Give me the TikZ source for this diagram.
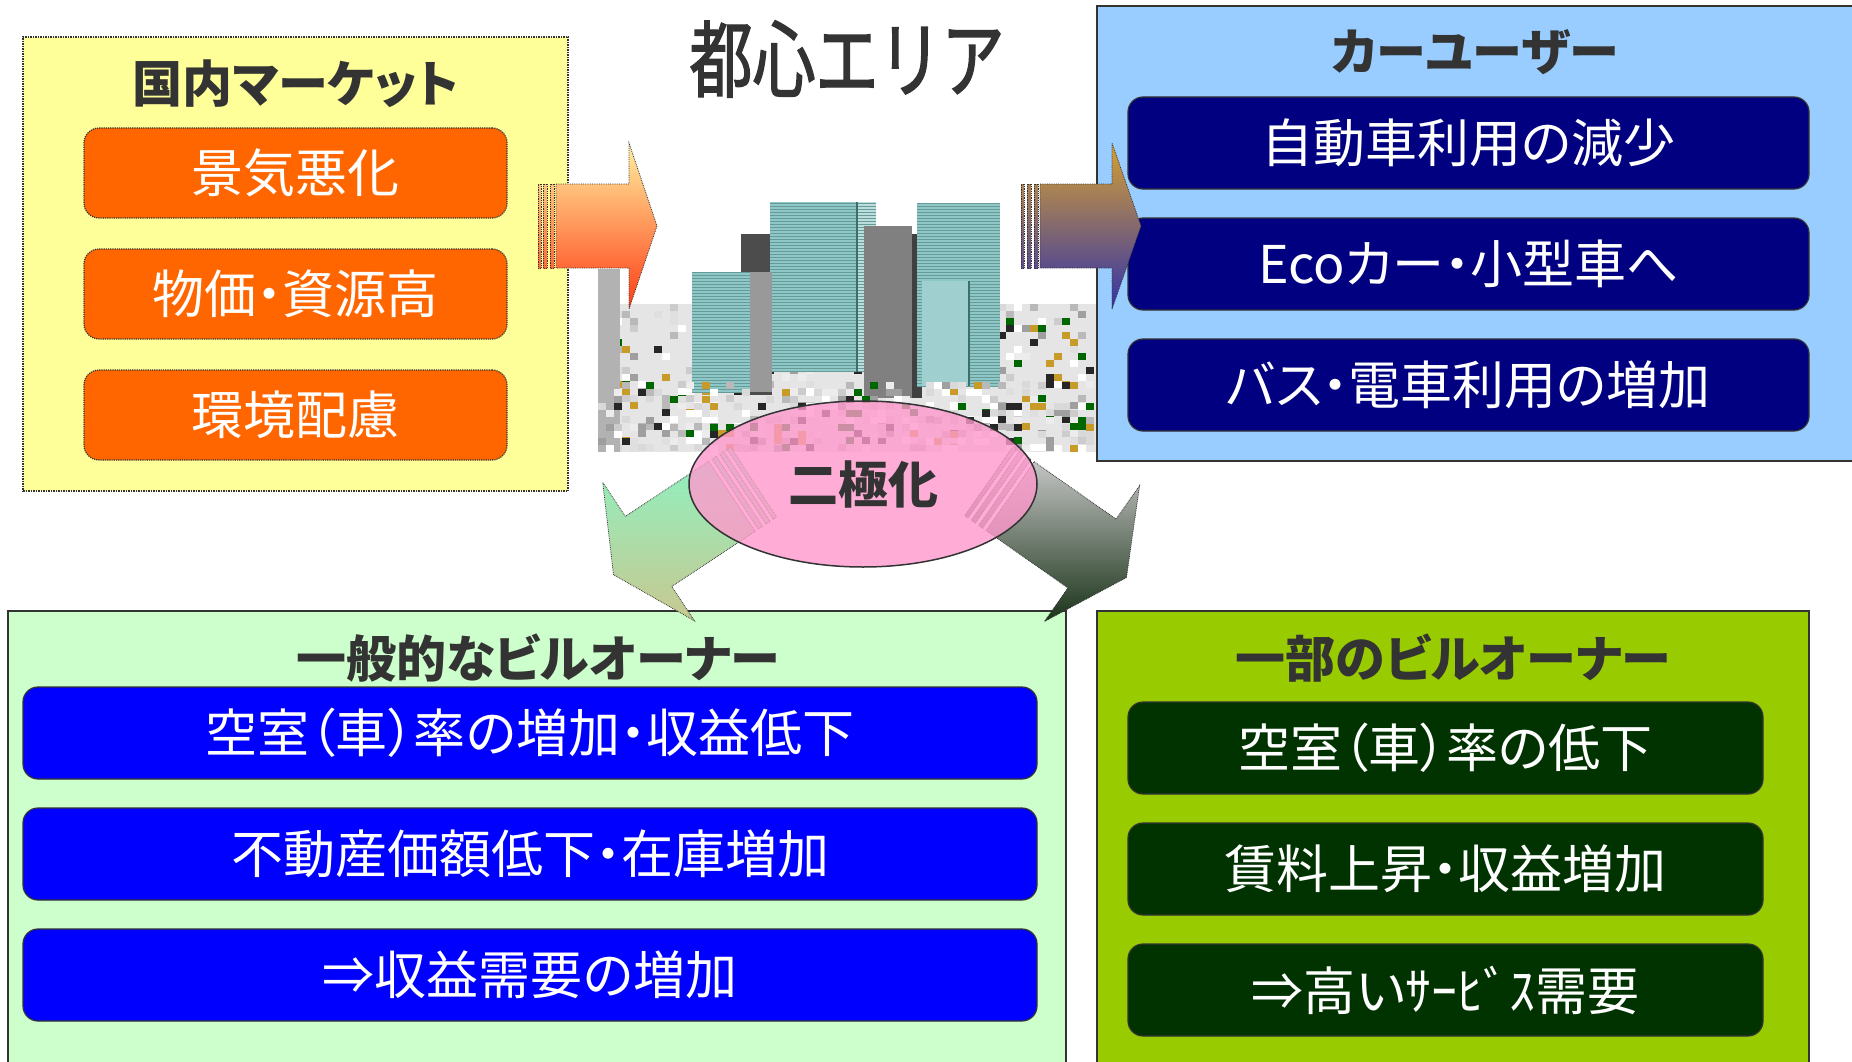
\documentclass[tikz,border=0pt]{standalone}
\usepackage{fontspec}
\setmainfont{Noto Sans CJK JP}[RawFeature=+palt]
\newfontfamily\areafont{Noto Sans CJK JP}[FakeStretch=0.75, FakeBold=1.6]
\usepackage{tikz}
\usetikzlibrary{positioning, shapes.geometric, patterns}

\definecolor{titlegray}{HTML}{333333}
\definecolor{mktyellow}{HTML}{FFFF99}
\definecolor{mktorange}{HTML}{FF6600}
\definecolor{carblue}{HTML}{99CCFF}
\definecolor{carnavy}{HTML}{000080}
\definecolor{genmint}{HTML}{CCFFCC}
\definecolor{genblue}{HTML}{0000FF}
\definecolor{partlime}{HTML}{99CC00}
\definecolor{partgreen}{HTML}{003300}
\definecolor{polarpink}{HTML}{FF99CC}
\definecolor{glass}{HTML}{8EC8C6}
\definecolor{glassdark}{HTML}{3F6F6D}
\definecolor{gold}{HTML}{C89B28}
\definecolor{warmtop}{HTML}{FFF0A0}
\definecolor{warmbot}{HTML}{FF3C14}
\definecolor{dusktop}{HTML}{D6A032}
\definecolor{duskbot}{HTML}{3232AA}
\definecolor{minttop}{HTML}{90F0C0}
\definecolor{mintbot}{HTML}{C8C890}
\definecolor{ashtop}{HTML}{C4C4C4}
\definecolor{ashbot}{HTML}{1A3318}

\tikzset{
  panel/.style={draw=titlegray, line width=1.5pt, inner sep=0pt},
  heading/.style={text=titlegray, inner sep=0pt, font=\bfseries\fontsize{50}{56}\selectfont},
  item/.style={rounded corners=15pt, draw=titlegray, line width=1.2pt, text=white,
    inner sep=0pt, minimum height=92pt, font=\fontsize{52}{60}\selectfont},
  mktitem/.style={item, fill=mktorange, densely dotted, minimum width=423pt, minimum height=90pt},
  caritem/.style={item, fill=carnavy, minimum width=681pt},
  genitem/.style={item, fill=genblue, minimum width=1014pt},
  partitem/.style={item, fill=partgreen, minimum width=635pt},
  blockarrow/.style={draw=titlegray, densely dotted, line width=0.8pt}
}

\begin{document}
\begin{tikzpicture}[x=1pt, y=-1pt, node distance=121pt]
        \useasboundingbox (0,0) rectangle (1852,1062);
        \fill[white] (0,0) rectangle (1852,1062);

        % Panels
        \node[panel, fill=mktyellow, densely dotted, minimum width=545pt, minimum height=454pt] (mkt) at (295.5,264) {};
        \node[panel, fill=carblue, minimum width=780pt, minimum height=455pt] (car) at (1487,233.5) {};
        \node[panel, fill=genmint, minimum width=1058pt, minimum height=469pt] (gen) at (537,845.5) {};
        \node[panel, fill=partlime, minimum width=712pt, minimum height=469pt] (part) at (1453,845.5) {};

        % Headings
        \node[heading] (mkttitle)  at (296,84)   {国内マーケット};
        \node[heading] (cartitle)  at (1475,52)  {カーユーザー};
        \node[heading] (gentitle)  at (538,658)  {一般的なビルオーナー};
        \node[heading] (parttitle) at (1453,658) {一部のビルオーナー};
        \node[heading, font=\areafont\fontsize{84}{90}\selectfont] (area) at (847,59) {都心エリア};

        % Items in each panel
        \node[mktitem] (m1) at (295.5,173) {景気悪化};
        \node[mktitem] (m2) [below of=m1] {物価・資源高};
        \node[mktitem] (m3) [below of=m2] {環境配慮};

        \node[caritem] (c1) at (1468.5,143) {自動車利用の減少};
        \node[caritem] (c2) [below of=c1] {Ecoカー・小型車へ};
        \node[caritem] (c3) [below of=c2] {バス・電車利用の増加};

        \node[genitem] (g1) at (530,733) {空室（車）率の増加・収益低下};
        \node[genitem] (g2) [below of=g1] {不動産価額低下・在庫増加};
        \node[genitem] (g3) [below of=g2] {⇒収益需要の増加};

        \node[partitem] (p1) at (1445.5,748) {空室（車）率の低下};
        \node[partitem] (p2) [below of=p1] {賃料上昇・収益増加};
        \node[partitem] (p3) [below of=p2] {⇒高いｻｰﾋﾞｽ需要};

        % City picture
        \pgfmathsetseed{12}
        \pgfmathdeclarerandomlist{rubble}{{black!85}{gray!75}{gray!55}{gray!40}{gray!25}{gray!15}{white}{white}{gray!30}{green!40!black}{gold}}
        \fill[gray!20] (598,304) rectangle (1096,452);
        \foreach \i in {1,...,420} {
          \pgfmathrandomitem{\rub}{rubble}
          \pgfmathsetmacro{\cx}{598+8*int(rnd*62)}
          \pgfmathsetmacro{\cy}{304+7*int(rnd*21)}
          \fill[\rub] (\cx,\cy) rectangle ++(8,7);
        }
        \fill[gray!60] (598,269) rectangle (620,452);
        \fill[black!70] (741,234) rectangle (772,395);
        \fill[glass] (770,202) rectangle (857,372);
        \fill[glass!60!white] (857,202) rectangle (876,372);
        \fill[pattern=horizontal lines, pattern color=glassdark!50!glass] (770,202) rectangle (876,372);
        \draw[glassdark, line width=2pt] (857,202) -- (857,372);
        \fill[gray] (864,226) rectangle (912,398);
        \fill[black!75] (912,234) rectangle (922,398);
        \fill[glass] (917,203) rectangle (1000,386);
        \fill[pattern=horizontal lines, pattern color=glassdark!50!glass] (917,203) rectangle (1000,386);
        \fill[glass!85!white] (922,281) rectangle (969,386);
        \draw[glassdark, line width=2pt] (969,281) -- (969,386);
        \fill[glass] (692,272) rectangle (750,392);
        \fill[pattern=horizontal lines, pattern color=glassdark!50!glass] (692,272) rectangle (750,392);
        \fill[gray!80] (750,272) rectangle (772,392);
        \foreach \i in {1,...,220} {
          \pgfmathrandomitem{\rub}{rubble}
          \pgfmathsetmacro{\cx}{598+8*int(rnd*62)}
          \pgfmathsetmacro{\cy}{382+7*int(rnd*10)}
          \fill[\rub] (\cx,\cy) rectangle ++(8,7);
        }

        % Split arrows, behind the ellipse
        \begin{scope}[shift={(648.5,551.5)}, rotate=213.5]
          \shade[blockarrow, top color=minttop, bottom color=mintbot]
            (-100,-42) -- (0,-42) -- (0,-83) -- (42,0) -- (0,83) -- (0,42) -- (-100,42) -- cycle;
          \foreach \a/\b in {104/109, 113/118, 122/126}
            \shade[blockarrow, top color=minttop, bottom color=minttop!50!mintbot]
              (-\a,-42) -- (-\b,-42) -- (-\b,42) -- (-\a,42) -- cycle;
        \end{scope}
        \begin{scope}[shift={(1092,553.5)}, rotate=-35]
          \shade[blockarrow, top color=ashtop, bottom color=ashbot]
            (-100,-42) -- (0,-42) -- (0,-83) -- (42,0) -- (0,83) -- (0,42) -- (-100,42) -- cycle;
          \foreach \a/\b in {104/109, 113/118, 122/126}
            \shade[blockarrow, top color=ashtop, bottom color=ashtop!50!ashbot]
              (-\a,-42) -- (-\b,-42) -- (-\b,42) -- (-\a,42) -- cycle;
        \end{scope}

        % Bipolarisation
        \node[ellipse, draw=titlegray, line width=1.5pt, fill=polarpink, fill opacity=0.8, text opacity=1,
              minimum width=348pt, minimum height=166pt, inner sep=0pt, text=titlegray,
              font=\bfseries\fontsize{50}{56}\selectfont] (polar) at (863,484) {二極化};

        % Arrows into and out of the city
        \begin{scope}[shift={(629,226)}]
          \shade[blockarrow, top color=warmtop, bottom color=warmbot]
            (-73,-42) -- (0,-42) -- (0,-83) -- (28,0) -- (0,83) -- (0,42) -- (-73,42) -- cycle;
          \foreach \a/\b in {75/79, 82/86, 88/91}
            \shade[blockarrow, top color=warmtop!75!warmbot, bottom color=warmtop!25!warmbot]
              (-\a,-42) rectangle (-\b,42);
        \end{scope}
        \begin{scope}[shift={(1112,226)}]
          \shade[blockarrow, top color=dusktop, bottom color=duskbot]
            (-72,-42) -- (0,-42) -- (0,-83) -- (29,0) -- (0,83) -- (0,42) -- (-72,42) -- cycle;
          \foreach \a/\b in {74/78, 81/85, 88/91}
            \shade[blockarrow, top color=dusktop!75!duskbot, bottom color=dusktop!25!duskbot]
              (-\a,-42) rectangle (-\b,42);
        \end{scope}
\end{tikzpicture}
\end{document}
